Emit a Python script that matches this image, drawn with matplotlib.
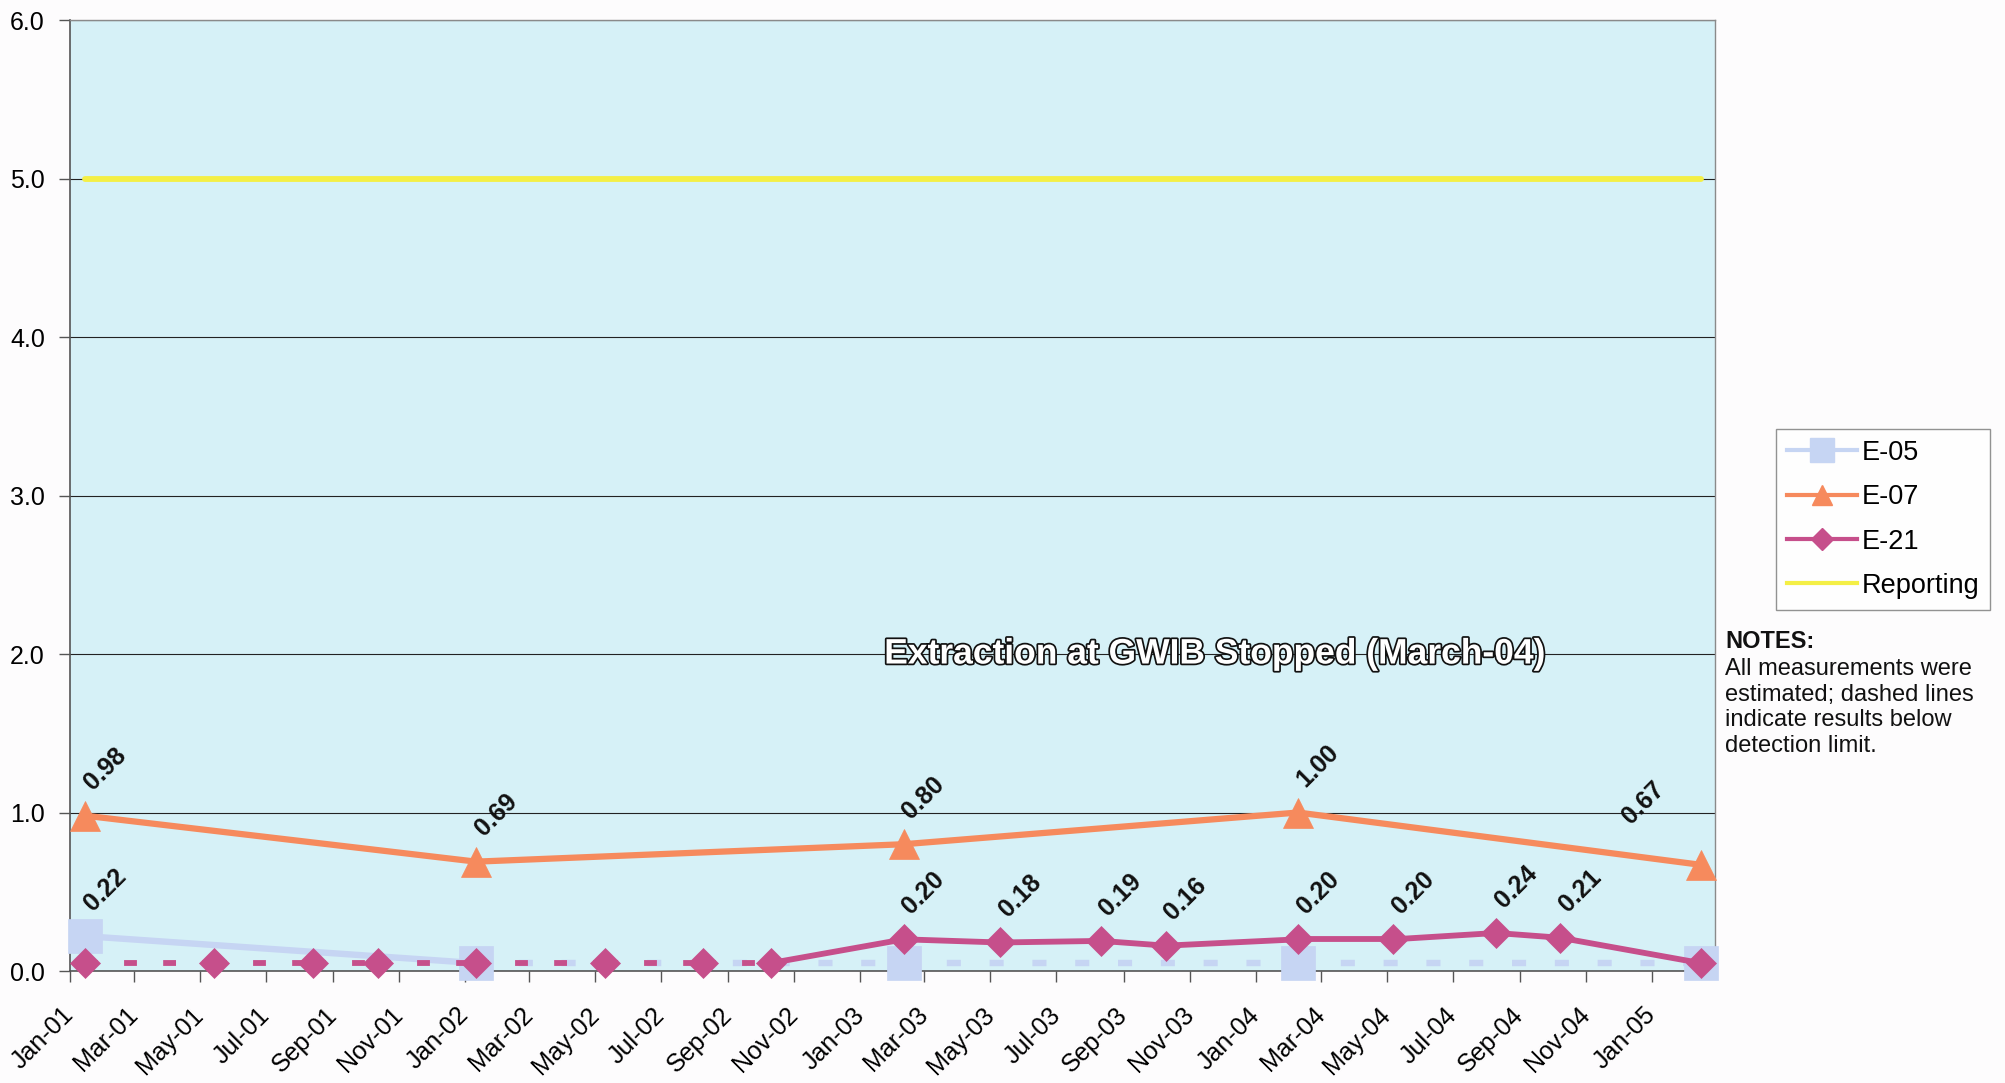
import datetime as dt
import matplotlib
matplotlib.use('Agg')
import matplotlib.pyplot as plt
import matplotlib.dates as mdates
import matplotlib.patheffects as pe
from matplotlib.lines import Line2D

plt.rcParams['font.family'] = ['Liberation Sans', 'DejaVu Sans']

# E-21 is sampled every round, E-05 / E-07 once a year
e21_dates = [dt.date(2001, 1, 15), dt.date(2001, 5, 14), dt.date(2001, 8, 13),
             dt.date(2001, 10, 12), dt.date(2002, 1, 11), dt.date(2002, 5, 10),
             dt.date(2002, 8, 9), dt.date(2002, 10, 10), dt.date(2003, 2, 10),
             dt.date(2003, 5, 10), dt.date(2003, 8, 11), dt.date(2003, 10, 10),
             dt.date(2004, 2, 9), dt.date(2004, 5, 7), dt.date(2004, 8, 10),
             dt.date(2004, 10, 8), dt.date(2005, 2, 15)]
e21_vals = [0.05, 0.05, 0.05, 0.05, 0.05, 0.05, 0.05, 0.05, 0.20,
            0.18, 0.19, 0.16, 0.20, 0.20, 0.24, 0.21, 0.05]
e21_detect = [False, False, False, False, False, False, False, False, True,
              True, True, True, True, True, True, True, False]

annual_dates = [dt.date(2001, 1, 15), dt.date(2002, 1, 11), dt.date(2003, 2, 10),
                dt.date(2004, 2, 9), dt.date(2005, 2, 15)]
e05_vals = [0.22, 0.05, 0.05, 0.05, 0.05]
e05_detect = [True, False, False, False, False]
e07_vals = [0.98, 0.69, 0.80, 1.00, 0.67]
e07_detect = [True, True, True, True, True]

reporting_dates = [dt.date(2001, 1, 15), dt.date(2005, 2, 15)]
reporting_vals = [5.0, 5.0]

C_E05 = '#c6d5f3'
C_E07 = '#f68a5d'
C_E21 = '#c64f8b'
C_REP = '#f4ef45'

fig = plt.figure(figsize=(20.05, 10.83), dpi=100, facecolor='#fdfcfd')
ax = fig.add_axes([0.0349, 0.1034, 0.8204, 0.8781])
ax.set_facecolor('#d6f1f7')


def draw_series(x, y, detect, color, marker, ms, lw, z, label_shift=None):
    # dashed where both ends of a segment are below detection
    for i in range(len(x) - 1):
        below = not detect[i] and not detect[i + 1]
        kw = {'dashes': (2.2, 4.5)} if below else {}
        ax.plot(x[i:i + 2], y[i:i + 2], color=color, lw=lw,
                solid_capstyle='round', dash_capstyle='butt', zorder=z, **kw)
    ax.plot(x, y, ls='none', marker=marker, ms=ms, mfc=color, mec=color,
            mew=0.5, zorder=z + 0.5, clip_on=False)
    for i, (xi, yi, d) in enumerate(zip(x, y, detect)):
        if not d:
            continue
        off = (8, 15)
        if label_shift and i in label_shift:
            off = label_shift[i]
        ax.annotate(f'{yi:.2f}', (xi, yi), xytext=off, textcoords='offset points',
                    rotation=45, rotation_mode='anchor', ha='left', va='bottom',
                    fontsize=18, fontweight='bold', color='#111111', zorder=20)


draw_series(annual_dates, e05_vals, e05_detect, C_E05, 's', 24, 4.6, 3)
draw_series(annual_dates, e07_vals, e07_detect, C_E07, '^', 21, 4.5, 5,
            label_shift={4: (-48, 26)})
draw_series(e21_dates, e21_vals, e21_detect, C_E21, 'D', 15.5, 4.2, 6)
ax.plot(reporting_dates, reporting_vals, color=C_REP, lw=4.2,
        solid_capstyle='round', zorder=4)

ax.text(dt.date(2003, 11, 24), 2.0, 'Extraction at GWIB Stopped (March-04)',
        ha='center', va='center', fontsize=25.5, fontweight='bold',
        color='white',
        path_effects=[pe.withStroke(linewidth=2.5, foreground='#111111')],
        zorder=15)

ax.set_ylim(0, 6)
ax.set_yticks([0, 1, 2, 3, 4, 5, 6])
ax.yaxis.set_major_formatter(plt.FormatStrFormatter('%.1f'))
ax.grid(axis='y', color='#222222', lw=0.8)
ax.set_axisbelow(True)

ax.set_xlim(dt.date(2001, 1, 1), dt.date(2005, 2, 28))
ax.xaxis.set_major_locator(mdates.MonthLocator(bymonth=[1, 3, 5, 7, 9, 11]))
ax.xaxis.set_major_formatter(mdates.DateFormatter('%b-%y'))
ax.tick_params(axis='x', direction='out', length=8, width=1, color='#555555',
               labelsize=18, pad=21)
ax.tick_params(axis='y', direction='out', length=8, width=1, color='#555555',
               labelsize=18, pad=10)
for lab in ax.get_xticklabels():
    lab.set_rotation(45)
    lab.set_ha('right')
    lab.set_va('center')
    lab.set_rotation_mode('anchor')

for side in ['left', 'bottom']:
    ax.spines[side].set_color('#555555')
    ax.spines[side].set_linewidth(1.2)
for side in ['top', 'right']:
    ax.spines[side].set_color('#8a8a8a')
    ax.spines[side].set_linewidth(1)

handles = [
    Line2D([], [], color=C_E05, lw=3, marker='s', ms=17),
    Line2D([], [], color=C_E07, lw=3, marker='^', ms=15),
    Line2D([], [], color=C_E21, lw=3, marker='D', ms=11),
    Line2D([], [], color=C_REP, lw=3),
]
leg = fig.legend(handles, ['E-05', 'E-07', 'E-21', 'Reporting'],
                 loc='upper right', bbox_to_anchor=(0.9925, 0.604),
                 fontsize=19.5, frameon=True, fancybox=False, handlelength=2.6,
                 handletextpad=0.15, labelspacing=0.68, borderpad=0.4,
                 borderaxespad=0)
leg.get_frame().set_edgecolor('#777777')
leg.get_frame().set_linewidth(1)

fig.text(0.8603, 0.418, 'NOTES:', fontsize=17, fontweight='bold',
         ha='left', va='top', color='#111111')
fig.text(0.8603, 0.392,
         'All measurements were\nestimated; dashed lines\nindicate results below\ndetection limit.',
         fontsize=17, ha='left', va='top', color='#111111', linespacing=1.2)

fig.savefig('out.png', dpi=100, facecolor=fig.get_facecolor())
